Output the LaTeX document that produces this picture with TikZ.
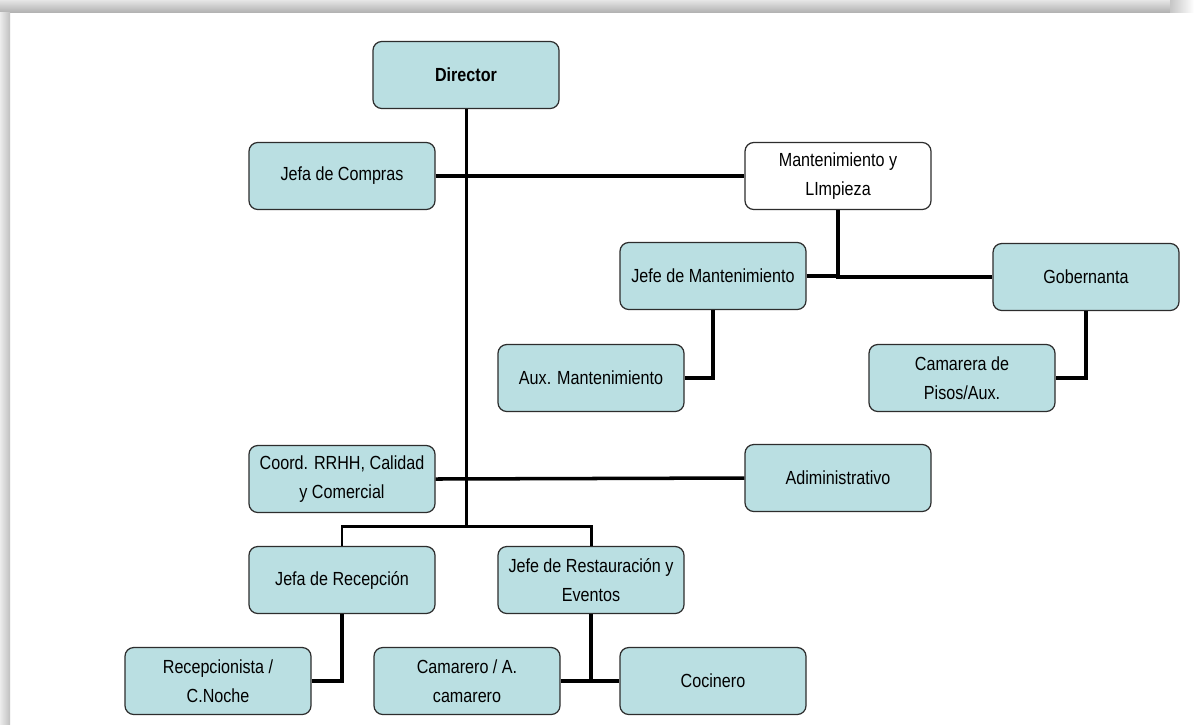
\documentclass[tikz,border=0pt]{standalone}
\usepackage{fontspec}
\setmainfont{Liberation Sans}[FakeStretch=0.85]
\usepackage{tikz}
\usetikzlibrary{positioning,calc}

\definecolor{celeste}{RGB}{186,223,226}
\definecolor{borde}{RGB}{45,45,45}

\begin{document}
\begin{tikzpicture}[
    puesto/.style={
        rectangle,
        rounded corners=5pt,
        draw=borde,
        line width=0.7pt,
        fill=#1,
        minimum width=3.72cm,
        minimum height=1.34cm,
        inner sep=2pt,
        text=black,
        font=\fontsize{10.8}{16.4}\selectfont,
        align=center
    },
    puesto/.default=celeste,
    enlace/.style={
        line width=#1,
        black
    },
    enlace/.default=2pt
]

% Frame with shadow
\useasboundingbox (0,0) rectangle (23.88,-14.48);
\fill[white] (0,0) rectangle (23.88,-14.48);
\shade[top color=gray!20, bottom color=gray!60] (0,0) rectangle (23.4,-0.24);
\shade[left color=gray!45, right color=white] (23.4,0) rectangle (23.88,-0.24);
\shade[left color=gray!15, right color=gray!50] (0,-0.24) rectangle (0.2,-14.48);

% Positions
\node[puesto] (director) at (9.32,-1.50) {\textbf{Director}};
\node[puesto] (compras) at (6.84,-3.52) {Jefa de Compras};
\node[puesto=white] (mantlimp) at (16.76,-3.52) {Mantenimiento y\\LImpieza};
\node[puesto] (jefemant) at (14.26,-5.52) {Jefe de Mantenimiento};
\node[puesto] (gobernanta) at (21.72,-5.54) {Gobernanta};
\node[puesto] (auxmant) at (11.82,-7.56) {Aux. Mantenimiento};
\node[puesto] (camarera) at (19.24,-7.56) {Camarera de\\Pisos/Aux.};
\node[puesto] (coord) at (6.84,-9.58) {Coord. RRHH, Calidad\\y Comercial};
\node[puesto] (admin) at (16.76,-9.56) {Adiministrativo};
\node[puesto] (recepcion) at (6.84,-11.60) {Jefa de Recepción};
\node[puesto] (restauracion) at (11.82,-11.60) {Jefe de Restauración y\\Eventos};
\node[puesto] (recepcionista) at (4.36,-13.62) {Recepcionista /\\C.Noche};
\node[puesto] (camarero) at (9.34,-13.62) {Camarero / A.\\camarero};
\node[puesto] (cocinero) at (14.26,-13.62) {Cocinero};

\coordinate (reparto) at ($(director.south)+(0,-8.35)$);

% Connectors
\draw[enlace=1.7pt] (director.south) -- (reparto);
\draw[enlace] (compras.east) -- (mantlimp.west);
\draw[enlace] (coord.east) -- (admin.west);
\draw[enlace] (mantlimp.south) |- (gobernanta.west);
\draw[enlace] (jefemant.east) -- (jefemant.east -| mantlimp.south);
\draw[enlace] (jefemant.south) |- (auxmant.east);
\draw[enlace] (gobernanta.south) |- (camarera.east);
\draw[enlace=1.7pt] (recepcion.north) |- (reparto) -| (restauracion.north);
\draw[enlace] (recepcion.south) |- (recepcionista.east);
\draw[enlace] (camarero.east) -- (cocinero.west);
\draw[enlace] (restauracion.south) -- (restauracion.south |- camarero.east);

\end{tikzpicture}
\end{document}
